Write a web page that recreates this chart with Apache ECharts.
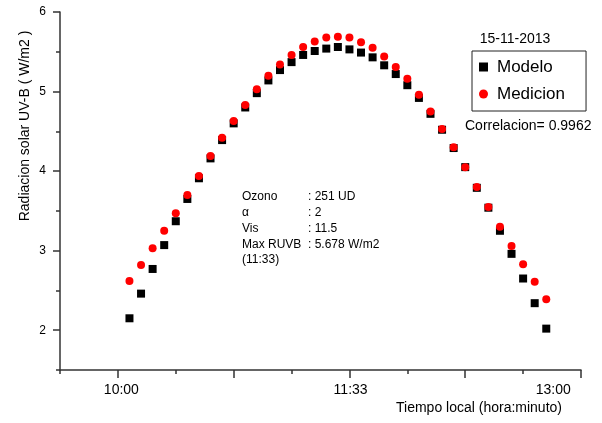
<!DOCTYPE html>
<html>
<head>
<meta charset="utf-8">
<script src="https://cdn.jsdelivr.net/npm/echarts@6/dist/echarts.min.js"></script>
<style>
  html,body{margin:0;padding:0;background:#fff;}
  #chart{width:602px;height:423px;}
</style>
</head>
<body>
<div id="chart"></div>
<script>
// hora local de cada medida (cada 5 min)
var horas = ['10:00','10:05','10:10','10:15','10:20','10:25','10:30','10:35','10:40','10:45',
  '10:50','10:55','11:00','11:05','11:10','11:15','11:20','11:25','11:30','11:35',
  '11:40','11:45','11:50','11:55','12:00','12:05','12:10','12:15','12:20','12:25',
  '12:30','12:35','12:40','12:45','12:50','12:55','13:00']
var modelo = [2.15,2.46,2.77,3.07,3.37,3.65,3.91,4.16,4.39,4.60,
  4.80,4.98,5.14,5.27,5.37,5.46,5.51,5.54,5.56,5.53,
  5.49,5.43,5.33,5.22,5.08,4.92,4.72,4.52,4.29,4.05,
  3.79,3.54,3.25,2.96,2.65,2.34,2.02]
var medicion = [2.62,2.82,3.03,3.25,3.47,3.70,3.94,4.19,4.42,4.63,
  4.83,5.03,5.20,5.34,5.46,5.56,5.63,5.68,5.69,5.68,
  5.62,5.55,5.44,5.31,5.16,4.96,4.75,4.53,4.30,4.05,
  3.80,3.55,3.30,3.06,2.83,2.61,2.39]
// eje x en minutos desde las 9:30
var origen = '9:30'
var xLabelValues = [26.5, 125.5, 213]
var xLabelTexts = ['10:00', '11:33', '13:00']
var xMajorTicks = [25, 75, 125, 175, 225]
var yTickValues = [2, 3, 4, 5, 6]
var paramNames = ['Ozono', '\u03b1', 'Vis', 'Max RUVB', '(11:33)']
var paramValues = [': 251 UD', ': 2', ': 11.5', ': 5.678 W/m2', '']

var font = 'Arial, "Liberation Sans", sans-serif'

function aMinutos(h){
  var p = h.split(':')
  return +p[0]*60 + +p[1]
}
var base = aMinutos(origen)
var datosModelo = horas.map(function(h,i){ return [aMinutos(h)-base, modelo[i]] })
var datosMedicion = horas.map(function(h,i){ return [aMinutos(h)-base, medicion[i]] })

var chart = echarts.init(document.getElementById('chart'))

var graphics = [
  {type:'text', x:25, y:126, rotation:Math.PI/2,
    style:{text:'Radiacion solar UV-B ( W/m2 )', font:'14px '+font, fill:'#000', align:'center', verticalAlign:'middle'}},
  {type:'text', x:396, y:408,
    style:{text:'Tiempo local (hora:minuto)', font:'14px '+font, fill:'#000', align:'left', verticalAlign:'middle'}},
  {type:'text', x:515, y:39,
    style:{text:'15-11-2013', font:'14px '+font, fill:'#000', align:'center', verticalAlign:'middle'}},
  {type:'text', x:465, y:126,
    style:{text:'Correlacion= 0.9962', font:'14px '+font, fill:'#000', align:'left', verticalAlign:'middle'}}
]
var lineY = [197, 213, 229, 245, 260]
paramNames.forEach(function(n,i){
  graphics.push({type:'text', x:242, y:lineY[i],
    style:{text:n, font:'12px '+font, fill:'#000', align:'left', verticalAlign:'middle'}})
  graphics.push({type:'text', x:308, y:lineY[i],
    style:{text:paramValues[i], font:'12px '+font, fill:'#000', align:'left', verticalAlign:'middle'}})
})

var axisLine = {lineStyle:{color:'#333', width:1.5}}

var option = {
  animation:false,
  grid:{left:60, top:12, right:21, bottom:53},
  legend:{
    orient:'vertical',
    left:472, top:51,
    padding:[6, 21, 7, 7],
    borderColor:'#222', borderWidth:1,
    itemWidth:9, itemHeight:9, itemGap:7,
    textStyle:{fontSize:17, fontFamily:font, color:'#000', lineHeight:20, padding:[0,0,0,4]},
    data:[{name:'Modelo', icon:'rect'}, {name:'Medicion', icon:'circle'}]
  },
  graphic:graphics,
  xAxis:[
    {
      type:'value', min:0, max:225, interval:25,
      axisLine:axisLine,
      axisTick:{length:4, lineStyle:{color:'#333', width:1.5}},
      axisLabel:{show:false},
      splitLine:{show:false}
    },
    {
      type:'value', min:0, max:225, position:'bottom',
      axisLine:{show:false},
      axisTick:{length:8, customValues:xMajorTicks, lineStyle:{color:'#333', width:1.5}},
      axisLabel:{
        customValues:xLabelValues,
        margin:13, fontSize:14, fontFamily:font, color:'#000',
        formatter:function(v){
          var k = xLabelValues.indexOf(v)
          return k >= 0 ? xLabelTexts[k] : ''
        }
      },
      splitLine:{show:false}
    }
  ],
  yAxis:[
    {
      type:'value', min:1.5, max:6, interval:0.5,
      axisLine:axisLine,
      axisTick:{length:4, lineStyle:{color:'#333', width:1.5}},
      axisLabel:{show:false},
      splitLine:{show:false}
    },
    {
      type:'value', min:1.5, max:6, position:'left',
      axisLine:{show:false},
      axisTick:{length:7, customValues:yTickValues, lineStyle:{color:'#333', width:1.5}},
      axisLabel:{customValues:yTickValues, margin:14, fontSize:12, fontFamily:font, color:'#000'},
      splitLine:{show:false}
    }
  ],
  series:[
    {
      name:'Modelo', type:'scatter',
      symbol:'rect', symbolSize:8,
      itemStyle:{color:'#000', opacity:1},
      data:datosModelo
    },
    {
      name:'Medicion', type:'scatter',
      symbol:'circle', symbolSize:8,
      itemStyle:{color:'#ff0000', opacity:1},
      data:datosMedicion
    }
  ]
}
chart.setOption(option)
</script>
</body>
</html>
